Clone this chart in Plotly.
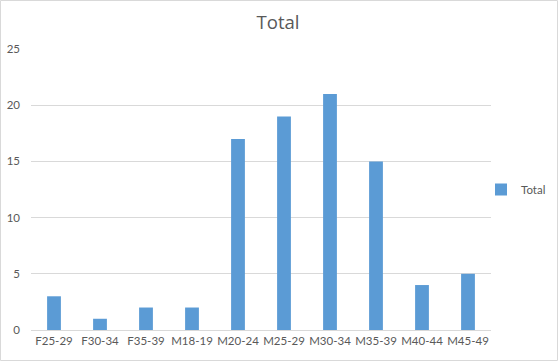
import plotly.graph_objects as go

categories = ["F25-29", "F30-34", "F35-39", "M18-19", "M20-24", "M25-29", "M30-34", "M35-39", "M40-44", "M45-49"]
totals = [3, 1, 2, 2, 17, 19, 21, 15, 4, 5]
y_ticks = [0, 5, 10, 15, 20, 25]

W, H = 559, 362
L, R, T, B = 31, 68, 49, 32

fig = go.Figure()
fig.add_trace(go.Bar(x=categories, y=totals, name="Total", marker_color="#5b9bd5",
                     marker_line_width=0))

font_fam = "Lato, Open Sans, sans-serif"
fig.update_layout(
    width=W, height=H,
    margin=dict(l=L, r=R, t=T, b=B, autoexpand=False),
    paper_bgcolor="white", plot_bgcolor="white",
    font=dict(family=font_fam, size=11.5, color="#595959"),
    title=dict(text="Total", x=(278) / W, xanchor="center", y=1 - 22 / H, yanchor="middle",
               font=dict(size=18.6, color="#595959", family="Open Sans, sans-serif")),
    bargap=0.7,
    showlegend=True,
    legend=dict(x=(481 - L) / (W - L - R), xanchor="left", y=0.5, yanchor="middle",
                font=dict(size=11.5, color="#595959"), itemwidth=30,
                bgcolor="rgba(0,0,0,0)"),
    xaxis=dict(showgrid=False, showline=True, linecolor="#d9d9d9", linewidth=1,
               ticks="", tickfont=dict(size=11.5, color="#595959"), fixedrange=True),
    yaxis=dict(range=[0, 25], tickvals=y_ticks, showgrid=True, gridcolor="#d9d9d9",
               gridwidth=1, zeroline=False, showline=False, ticks="",
               ticklabelstandoff=10, tickfont=dict(size=11.5, color="#595959")),
    shapes=[dict(type="rect", xref="paper", yref="paper",
                 x0=-(L - 0.5) / (W - L - R), x1=1 + (R - 1.5) / (W - L - R),
                 y0=-(B - 1.5) / (H - T - B), y1=1 + (T - 0.5) / (H - T - B),
                 line=dict(color="#d9d9d9", width=1), fillcolor="rgba(0,0,0,0)")],
)

fig.write_html("out.html")
